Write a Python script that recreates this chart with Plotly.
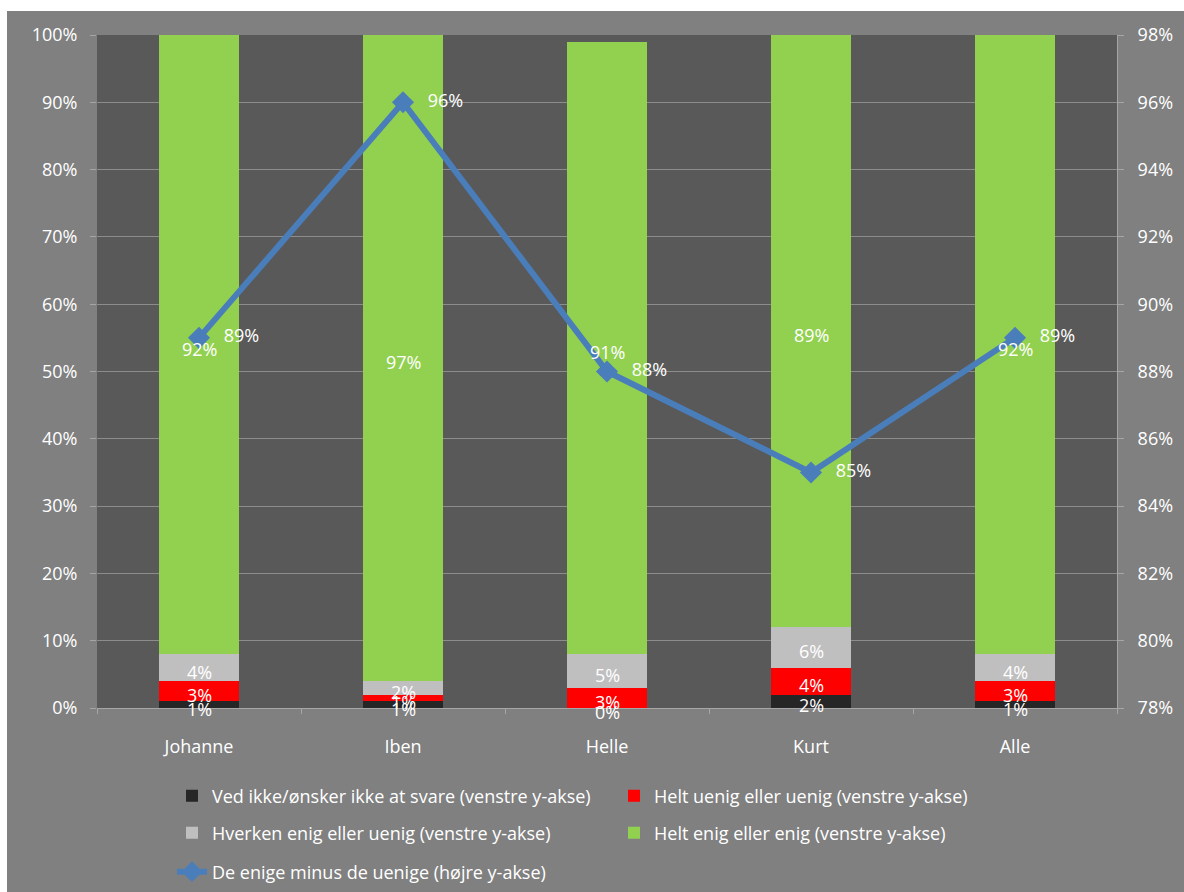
import plotly.graph_objects as go

# Survey categories
categories = ["Johanne", "Iben", "Helle", "Kurt", "Alle"]

# Stacked answer shares (left y-axis)
ved_ikke = [0.01, 0.01, 0.00, 0.02, 0.01]
uenig = [0.03, 0.01, 0.03, 0.04, 0.03]
hverken = [0.04, 0.02, 0.05, 0.06, 0.04]
enig = [0.92, 0.97, 0.91, 0.89, 0.92]

# Agree minus disagree (right y-axis)
netto = [0.89, 0.96, 0.88, 0.85, 0.89]

series = [
    ("Ved ikke/ønsker ikke at svare (venstre y-akse)", ved_ikke, "#262626", "legend"),
    ("Helt uenig eller uenig (venstre y-akse)", uenig, "#ff0000", "legend"),
    ("Hverken enig eller uenig (venstre y-akse)", hverken, "#bfbfbf", "legend2"),
    ("Helt enig eller enig (venstre y-akse)", enig, "#92d050", "legend2"),
]
line_name = "De enige minus de uenige (højre y-akse)"

FONT = "Open Sans"
FS = 18
W, H = 1184, 892
ML, MR, MT, MB = 97, 67, 35, 184
PW, PH = W - ML - MR, H - MT - MB

def px_x(p):
    return (p - ML) / PW

def px_y(p):
    return (H - MB - p) / PH

def pct(v):
    return f"{round(v * 100):.0f}%"

fig = go.Figure()

for name, vals, color, leg in series:
    fig.add_trace(go.Bar(
        x=categories, y=vals, name=name, marker_color=color,
        marker_line_width=0, legend=leg, yaxis="y",
    ))

# Net-agreement line with diamond markers
fig.add_trace(go.Scatter(
    x=categories, y=netto, name=line_name,
    mode="lines+markers", yaxis="y2", legend="legend3",
    line=dict(color="#4a7ebb", width=6),
    marker=dict(symbol="diamond", size=17, color="#4a7ebb"),
))

# Value labels beside the line markers (wide invisible marker pushes text right)
fig.add_trace(go.Scatter(
    x=categories, y=netto, mode="markers+text", yaxis="y2",
    marker=dict(size=38, color="rgba(0,0,0,0)"),
    text=[pct(v) for v in netto], textposition="middle right",
    textfont=dict(color="white", size=FS, family=FONT),
    showlegend=False, hoverinfo="skip", cliponaxis=False,
))

# Segment labels, centred in the visible part of each segment,
# drawn as annotations so they sit above the line
annotations = []
base = [0.0] * len(categories)
for name, vals, color, leg in series:
    for i, v in enumerate(vals):
        lo = base[i]
        hi = min(base[i] + v, 1.0)
        annotations.append(dict(
            x=categories[i], y=(lo + hi) / 2, xref="x", yref="y",
            text=pct(v), showarrow=False, yshift=-4,
            font=dict(color="white", size=FS, family=FONT),
        ))
        base[i] += v

axis_line = "#a6a6a6"
grid = "#8c8c8c"
tick_font = dict(size=FS, color="white", family=FONT)
legend_common = dict(
    orientation="h", xanchor="left", yanchor="middle", traceorder="normal",
    bgcolor="rgba(0,0,0,0)", font=dict(size=FS, color="white", family=FONT),
)

fig.update_layout(
    width=W, height=H,
    margin=dict(l=ML, r=MR, t=MT, b=MB, autoexpand=False),
    paper_bgcolor="#808080",
    plot_bgcolor="#595959",
    barmode="stack",
    bargap=0.61,
    font=dict(family=FONT, size=FS, color="white"),
    xaxis=dict(
        type="category", tickson="boundaries", ticks="outside", ticklen=5,
        tickcolor=axis_line, showline=True, linecolor=axis_line, linewidth=1,
        showgrid=False, tickfont=tick_font, ticklabelstandoff=22,
    ),
    yaxis=dict(
        range=[0, 1], dtick=0.1, tickformat=".0%", showgrid=True,
        gridcolor=grid, gridwidth=1, zeroline=False, ticks="outside",
        ticklen=6, tickcolor=axis_line, showline=False,
        tickfont=tick_font, ticklabelstandoff=9,
    ),
    yaxis2=dict(
        range=[0.78, 0.98], dtick=0.02, tickformat=".0%", overlaying="y",
        side="right", showgrid=False, zeroline=False, ticks="outside",
        ticklen=6, tickcolor=axis_line, showline=True, linecolor=axis_line,
        tickfont=tick_font, ticklabelstandoff=10,
    ),
    annotations=annotations,
    legend=dict(legend_common, x=px_x(172), y=px_y(796),
                entrywidth=397, entrywidthmode="pixels"),
    legend2=dict(legend_common, x=px_x(172), y=px_y(833),
                 entrywidth=397, entrywidthmode="pixels"),
    legend3=dict(legend_common, x=px_x(172), y=px_y(872)),
    showlegend=True,
    shapes=[
        # white frame strips along the top and left edges
        dict(type="rect", xref="paper", yref="paper", layer="above",
             x0=px_x(0), x1=px_x(W), y0=px_y(11), y1=px_y(0),
             fillcolor="white", line_width=0),
        dict(type="rect", xref="paper", yref="paper", layer="above",
             x0=px_x(0), x1=px_x(7), y0=px_y(H), y1=px_y(0),
             fillcolor="white", line_width=0),
    ],
)

fig.write_html("out.html")
